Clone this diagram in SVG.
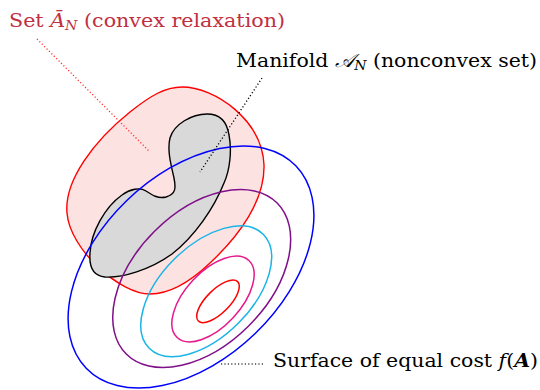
<svg xmlns="http://www.w3.org/2000/svg" width="540" height="390" viewBox="0 0 540 390">
<style>
.lbl{font-family:"DejaVu Serif","Liberation Serif",serif;font-size:19px}
.it{font-style:italic}
.sub{font-size:13px;font-style:italic}
.lvl{fill:none;stroke-width:1.5}
.lead{fill:none;stroke-width:1.3;stroke-dasharray:1.2 2.2}
</style>
<rect width="540" height="390" fill="#fff"/>
<g id="relaxation">
<path d="M182,87 C215,87 262,120 264,165 C265,200 240,235 210,263 C190,282 170,294 150,294 C120,294 70,250 67,213 C64,180 95,140 130,112 C150,96 165,87 182,87 Z" fill="#fde2e2" stroke="#ff0000" stroke-width="1.4"/>
</g>
<g id="manifold">
<path d="M207,114 C220,114 227,122 229,135 C232,150 230,170 224,183 C214,208 195,236 172,254 C150,270 122,278 105,277 C93,276 89,266 90,253 C91,232 105,207 122,195 C130,189 140,187 146,191 C152,195 158,199 166,197 C176,194 176,188 174,178 C171,165 167,150 170,138 C174,124 192,114 207,114 Z" fill="#d9d9d9" stroke="#000" stroke-width="1.4"/>
</g>
<g id="cost-levels">
<ellipse class="lvl" cx="191" cy="267" rx="145.7" ry="92.4" transform="rotate(-44 191 267)" stroke="#0000ff"/>
<ellipse class="lvl" cx="201.7" cy="278.5" rx="106.7" ry="66.7" transform="rotate(-45 201.7 278.5)" stroke="#80108a"/>
<ellipse class="lvl" cx="206.2" cy="291.3" rx="80.6" ry="45.3" transform="rotate(-45 206.2 291.3)" stroke="#1ab4e8"/>
<ellipse class="lvl" cx="213" cy="299" rx="52.6" ry="27.5" transform="rotate(-47 213 299)" stroke="#e6198c"/>
<ellipse class="lvl" cx="218" cy="301.3" rx="27.8" ry="11.6" transform="rotate(-45 218 301.3)" stroke="#ff0000"/>
</g>
<g id="connectors">
<line class="lead" x1="37" y1="39" x2="150" y2="152" stroke="#ff3030"/>
<line class="lead" x1="262" y1="78" x2="200" y2="172" stroke="#000"/>
<line class="lead" x1="221" y1="364" x2="264" y2="364" stroke="#444"/>
</g>
<g id="label-relaxation">
<text class="lbl" x="9" y="27" fill="#c0303f" textLength="276" lengthAdjust="spacingAndGlyphs">Set <tspan class="it">Ā</tspan><tspan class="sub" dy="3">N</tspan><tspan dy="-3"> (convex relaxation)</tspan></text>
</g>
<g id="label-manifold">
<text class="lbl" x="236" y="67" fill="#000" textLength="301" lengthAdjust="spacingAndGlyphs">Manifold <tspan class="it">𝒜</tspan><tspan class="sub" dy="3">N</tspan><tspan dy="-3"> (nonconvex set)</tspan></text>
</g>
<g id="label-cost">
<text class="lbl" x="273" y="367" fill="#000" textLength="265" lengthAdjust="spacingAndGlyphs">Surface of equal cost <tspan class="it">f</tspan>(<tspan font-weight="bold" font-style="italic">A</tspan>)</text>
</g>
</svg>
